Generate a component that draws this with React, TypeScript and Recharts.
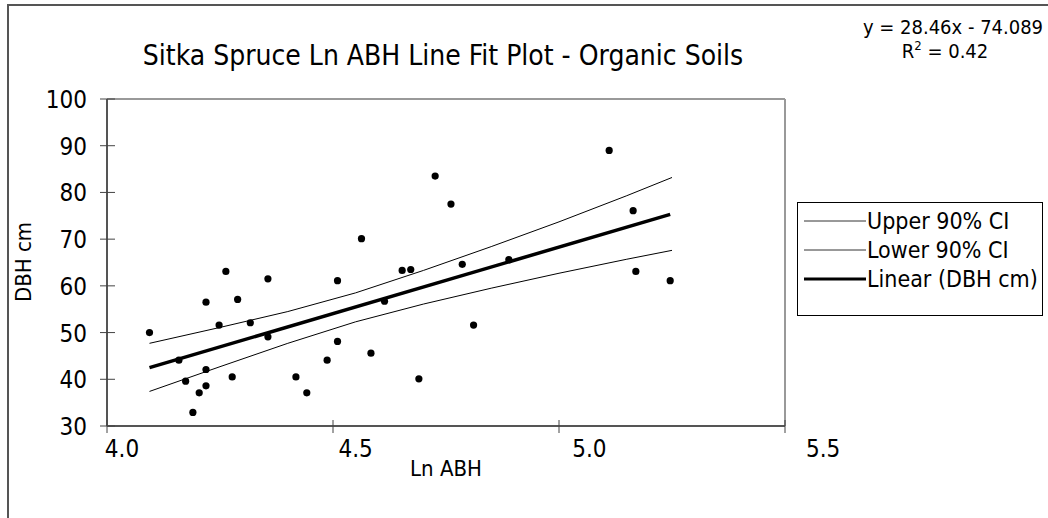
import {
  ComposedChart,
  Scatter,
  Line,
  XAxis,
  YAxis,
  ReferenceLine,
} from "recharts";

// Ln ABH (x) and DBH cm (y) observations
const lnAbh = [
  4.094, 4.159, 4.174, 4.19, 4.204, 4.219, 4.219, 4.219, 4.248, 4.263, 4.277,
  4.289, 4.317, 4.356, 4.356, 4.418, 4.442, 4.487, 4.51, 4.51, 4.563, 4.584,
  4.614, 4.653, 4.672, 4.69, 4.726, 4.761, 4.786, 4.811, 4.889, 5.111, 5.164,
  5.17, 5.246,
];
const dbhCm = [
  50.0, 44.1, 39.6, 32.9, 37.1, 56.5, 42.1, 38.6, 51.6, 63.1, 40.5, 57.1, 52.1,
  61.5, 49.1, 40.5, 37.1, 44.1, 61.1, 48.1, 70.1, 45.6, 56.7, 63.3, 63.5, 40.1,
  83.5, 77.5, 64.6, 51.6, 65.6, 89.0, 76.1, 63.1, 61.1,
];

// confidence band
const ciX = [4.094, 4.25, 4.4, 4.55, 4.7, 4.85, 5.0, 5.15, 5.25];
const upperCi = [47.7, 51.1, 54.5, 58.5, 63.3, 68.4, 73.7, 79.3, 83.2];
const lowerCi = [37.4, 42.7, 47.7, 52.3, 56.1, 59.5, 62.7, 65.7, 67.6];

// fitted line end points
const trendX = [4.094, 5.246];
const trendY = [42.5, 75.3];

const xTicks = [4.0, 4.5, 5.0, 5.5];
const yTicks = [30, 40, 50, 60, 70, 80, 90, 100];

const legendItems = [
  { label: "Upper 90% CI", width: 1, color: "#333" },
  { label: "Lower 90% CI", width: 1, color: "#333" },
  { label: "Linear (DBH cm)", width: 3, color: "#000" },
];

const points = lnAbh.map((x, i) => ({ x, y: dbhCm[i] }));
const upperData = ciX.map((x, i) => ({ x, y: upperCi[i] }));
const lowerData = ciX.map((x, i) => ({ x, y: lowerCi[i] }));
const trendData = trendX.map((x, i) => ({ x, y: trendY[i] }));

const FONT = "'DejaVu Sans Condensed', 'DejaVu Sans', sans-serif";

const XTick = (props: any) => {
  const { x, y, payload, index } = props;
  const axisY = y - 7 - 4;
  // the original's labels drift right of their tick marks
  const labelX = x + 15 + (index || 0) * 7.7;
  return (
    <g>
      <line x1={x} x2={x} y1={axisY - 6} y2={axisY + 7} stroke="#444" />
      <text
        x={labelX}
        y={axisY + 31}
        textAnchor="middle"
        fontFamily={FONT}
        fontStretch="condensed"
        fontSize={24}
        fill="#000"
      >
        {Number(payload.value).toFixed(1)}
      </text>
    </g>
  );
};

const YTick = (props: any) => {
  const { x, y, payload } = props;
  const axisX = x + 7 + 4;
  return (
    <g>
      <line x1={axisX - 7} x2={axisX + 8} y1={y} y2={y} stroke="#444" />
      <text
        x={axisX - 20}
        y={y + 9}
        textAnchor="end"
        fontFamily={FONT}
        fontStretch="condensed"
        fontSize={24}
        fill="#000"
      >
        {payload.value}
      </text>
    </g>
  );
};

export default function App() {
  return (
    <div
      style={{
        position: "absolute",
        left: 0,
        top: 0,
        width: 1048,
        height: 518,
        overflow: "hidden",
        background: "#fff",
      }}
    >
      <div
        style={{
          position: "absolute",
          left: 7,
          top: 4,
          width: 1100,
          height: 600,
          borderTop: "2px solid #555",
          borderLeft: "2px solid #555",
        }}
      />

      <div style={{ position: "absolute", left: 0, top: 0 }}>
        <ComposedChart
          width={1048}
          height={518}
          margin={{ top: 99, right: 263, bottom: 42, left: 27 }}
        >
          <XAxis
            dataKey="x"
            type="number"
            domain={[4, 5.5]}
            ticks={xTicks}
            allowDataOverflow
            height={50}
            tickSize={7}
            tickMargin={4}
            tickLine={false}
            axisLine={{ stroke: "#555", strokeWidth: 2 }}
            tick={<XTick />}
          />
          <YAxis
            dataKey="y"
            type="number"
            domain={[30, 100]}
            ticks={yTicks}
            allowDataOverflow
            width={80}
            tickSize={7}
            tickMargin={4}
            tickLine={false}
            axisLine={{ stroke: "#555", strokeWidth: 2 }}
            tick={<YTick />}
          />
          <ReferenceLine y={100} stroke="#999" strokeWidth={2} />
          <ReferenceLine x={5.5} stroke="#999" strokeWidth={2} />

          <Line
            data={upperData}
            dataKey="y"
            name="Upper 90% CI"
            type="linear"
            stroke="#000"
            strokeWidth={1}
            dot={false}
            activeDot={false}
            isAnimationActive={false}
          />
          <Line
            data={lowerData}
            dataKey="y"
            name="Lower 90% CI"
            type="linear"
            stroke="#000"
            strokeWidth={1}
            dot={false}
            activeDot={false}
            isAnimationActive={false}
          />
          <Line
            data={trendData}
            dataKey="y"
            name="Linear (DBH cm)"
            type="linear"
            stroke="#000"
            strokeWidth={3.5}
            dot={false}
            activeDot={false}
            isAnimationActive={false}
          />
          <Scatter
            data={points}
            dataKey="y"
            name="DBH cm"
            legendType="none"
            isAnimationActive={false}
            shape={(p: any) => <circle cx={p.cx} cy={p.cy} r={3.6} fill="#000" />}
          />
        </ComposedChart>
      </div>

      <svg
        width={1048}
        height={518}
        style={{ position: "absolute", left: 0, top: 0, pointerEvents: "none" }}
        fontFamily={FONT}
        fontStretch="condensed"
      >
        <text x={443} y={65} textAnchor="middle" fontSize={28} fill="#000">
          Sitka Spruce Ln ABH Line Fit Plot - Organic Soils
        </text>

        <text x={953} y={34} textAnchor="middle" fontSize={20} fill="#000">
          y = 28.46x - 74.089
        </text>
        <text x={945} y={58} textAnchor="middle" fontSize={20} fill="#000">
          R<tspan dy={-8} fontSize={13}>2</tspan>
          <tspan dy={8}> = 0.42</tspan>
        </text>

        <text
          transform="translate(31,262) rotate(-90)"
          textAnchor="middle"
          fontSize={22}
          fill="#000"
        >
          DBH cm
        </text>
        <text x={446} y={476} textAnchor="middle" fontSize={22} fill="#000">
          Ln ABH
        </text>

        <rect x={797.5} y={202.5} width={245} height={113} fill="#fff" stroke="#000" />
        {legendItems.map((item, i) => {
          const cy = 221 + i * 29;
          return (
            <g key={item.label}>
              <line
                x1={804}
                x2={866}
                y1={cy}
                y2={cy}
                stroke={item.color}
                strokeWidth={item.width}
              />
              <text x={867} y={cy + 8} fontSize={23} fill="#000">
                {item.label}
              </text>
            </g>
          );
        })}
      </svg>
    </div>
  );
}
